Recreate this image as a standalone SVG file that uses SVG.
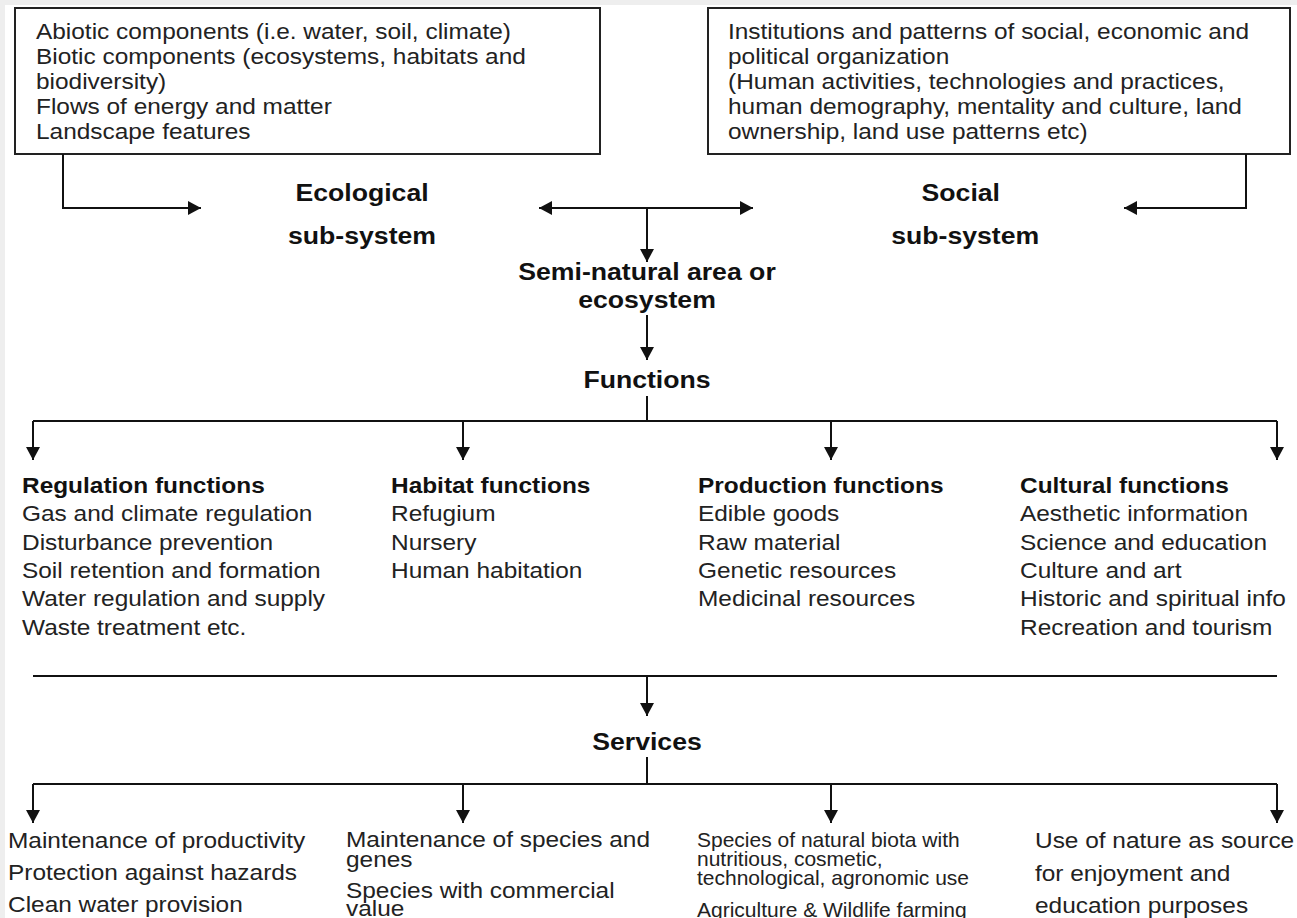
<svg xmlns="http://www.w3.org/2000/svg" width="1297" height="918" viewBox="0 0 1297 918">
  <defs>
    <marker id="arrow" markerUnits="userSpaceOnUse" markerWidth="16" markerHeight="16" refX="13" refY="7" orient="auto-start-reverse">
      <path d="M0,0 L13,7 L0,14 z" fill="#111"/>
    </marker>
    <style>
      .box { fill: #fff; stroke: #222; stroke-width: 2; }
      .txt { font-family: "Liberation Sans", Arial, sans-serif; font-size: 22px; fill: #222; }
      .sm { font-size: 21px; }
      .b { font-weight: bold; fill: #111; }
      .lbl { font-family: "Liberation Sans", Arial, sans-serif; font-size: 24px; font-weight: bold; fill: #111; text-anchor: middle; }
      .conn path { fill: none; stroke: #111; stroke-width: 2; }
      .arr { marker-end: url(#arrow); }
    </style>
  </defs>

  <!-- page background with thin grey margin -->
  <rect x="0" y="0" width="1297" height="918" fill="#eeeeee"/>
  <rect x="5" y="5" width="1292" height="913" fill="#ffffff"/>

  <!-- ecological drivers -->
  <g id="eco-box">
    <rect class="box" x="15" y="8" width="585" height="146"/>
    <g transform="translate(36,0) scale(1.11,1)">
      <text class="txt" x="0" y="39">Abiotic components (i.e. water, soil, climate)</text>
      <text class="txt" x="0" y="64">Biotic components (ecosystems, habitats and</text>
      <text class="txt" x="0" y="89">biodiversity)</text>
      <text class="txt" x="0" y="114">Flows of energy and matter</text>
      <text class="txt" x="0" y="139">Landscape features</text>
    </g>
  </g>

  <!-- social drivers -->
  <g id="social-box">
    <rect class="box" x="708" y="8" width="582" height="146"/>
    <g transform="translate(728,0) scale(1.11,1)">
      <text class="txt" x="0" y="39">Institutions and patterns of social, economic and</text>
      <text class="txt" x="0" y="64">political organization</text>
      <text class="txt" x="0" y="89">(Human activities, technologies and practices,</text>
      <text class="txt" x="0" y="114">human demography, mentality and culture, land</text>
      <text class="txt" x="0" y="139">ownership, land use patterns etc)</text>
    </g>
  </g>

  <g id="eco-subsystem" transform="translate(362,0) scale(1.11,1)">
    <text class="lbl" x="0" y="201">Ecological</text>
    <text class="lbl" x="0" y="244">sub-system</text>
  </g>

  <g id="social-subsystem" transform="translate(963,0) scale(1.11,1)">
    <text class="lbl" x="-2" y="201">Social</text>
    <text class="lbl" x="2" y="244">sub-system</text>
  </g>

  <g id="semi-natural" transform="translate(647,0) scale(1.11,1)">
    <text class="lbl" x="0" y="280">Semi-natural area or</text>
    <text class="lbl" x="0" y="308">ecosystem</text>
  </g>

  <g id="functions" transform="translate(647,0) scale(1.11,1)">
    <text class="lbl" x="0" y="388">Functions</text>
  </g>

  <g id="regulation" transform="translate(22,0) scale(1.11,1)">
    <text class="txt b" x="0" y="493">Regulation functions</text>
    <text class="txt" x="0" y="521">Gas and climate regulation</text>
    <text class="txt" x="0" y="550">Disturbance prevention</text>
    <text class="txt" x="0" y="578">Soil retention and formation</text>
    <text class="txt" x="0" y="606">Water regulation and supply</text>
    <text class="txt" x="0" y="635">Waste treatment etc.</text>
  </g>

  <g id="habitat" transform="translate(391,0) scale(1.11,1)">
    <text class="txt b" x="0" y="493">Habitat functions</text>
    <text class="txt" x="0" y="521">Refugium</text>
    <text class="txt" x="0" y="550">Nursery</text>
    <text class="txt" x="0" y="578">Human habitation</text>
  </g>

  <g id="production" transform="translate(698,0) scale(1.11,1)">
    <text class="txt b" x="0" y="493">Production functions</text>
    <text class="txt" x="0" y="521">Edible goods</text>
    <text class="txt" x="0" y="550">Raw material</text>
    <text class="txt" x="0" y="578">Genetic resources</text>
    <text class="txt" x="0" y="606">Medicinal resources</text>
  </g>

  <g id="cultural" transform="translate(1020,0) scale(1.11,1)">
    <text class="txt b" x="0" y="493">Cultural functions</text>
    <text class="txt" x="0" y="521">Aesthetic information</text>
    <text class="txt" x="0" y="550">Science and education</text>
    <text class="txt" x="0" y="578">Culture and art</text>
    <text class="txt" x="0" y="606">Historic and spiritual info</text>
    <text class="txt" x="0" y="635">Recreation and tourism</text>
  </g>

  <g id="services" transform="translate(647,0) scale(1.11,1)">
    <text class="lbl" x="0" y="750">Services</text>
  </g>

  <g id="service-regulation" transform="translate(8,0) scale(1.11,1)">
    <text class="txt" x="0" y="848">Maintenance of productivity</text>
    <text class="txt" x="0" y="880">Protection against hazards</text>
    <text class="txt" x="0" y="912">Clean water provision</text>
  </g>

  <g id="service-habitat" transform="translate(346,0) scale(1.11,1)">
    <text class="txt" x="0" y="847">Maintenance of species and</text>
    <text class="txt" x="0" y="867">genes</text>
    <text class="txt" x="0" y="898">Species with commercial</text>
    <text class="txt" x="0" y="916">value</text>
  </g>

  <!-- this column is set tighter in the original layout -->
  <g id="service-production" transform="translate(697,0)">
    <text class="txt sm" x="0" y="847">Species of natural biota with</text>
    <text class="txt sm" x="0" y="866">nutritious, cosmetic,</text>
    <text class="txt sm" x="0" y="885">technological, agronomic use</text>
    <text class="txt sm" x="0" y="917">Agriculture &amp; Wildlife farming</text>
  </g>

  <g id="service-cultural" transform="translate(1035,0) scale(1.11,1)">
    <text class="txt" x="0" y="848">Use of nature as source</text>
    <text class="txt" x="0" y="881">for enjoyment and</text>
    <text class="txt" x="0" y="913">education purposes</text>
  </g>

  <g id="connectors" class="conn">
    <path class="arr" d="M63,154 V208 H201"/>
    <path d="M539,208 H753" marker-start="url(#arrow)" marker-end="url(#arrow)"/>
    <path class="arr" d="M647,208 V262"/>
    <path class="arr" d="M1246,154 V208 H1124"/>
    <path class="arr" d="M647,315 V360"/>
    <path d="M647,396 V421 M33,421 H1277"/>
    <path class="arr" d="M33,421 V460"/>
    <path class="arr" d="M463,421 V460"/>
    <path class="arr" d="M831,421 V460"/>
    <path class="arr" d="M1277,421 V460"/>
    <path d="M33,676 H1277"/>
    <path class="arr" d="M647,676 V716"/>
    <path d="M647,757 V784 M33,784 H1277"/>
    <path class="arr" d="M33,784 V823"/>
    <path class="arr" d="M463,784 V823"/>
    <path class="arr" d="M831,784 V823"/>
    <path class="arr" d="M1277,784 V823"/>
  </g>
</svg>
